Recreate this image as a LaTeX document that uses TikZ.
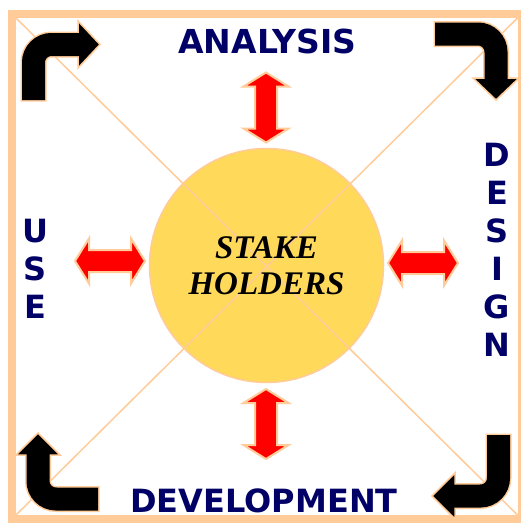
\documentclass[tikz,border=0pt]{standalone}
\usepackage{fontspec}
\newfontfamily\labelfont{DejaVu Sans}
\newfontfamily\hubfont{Liberation Serif}

\definecolor{peach}{RGB}{255,204,153}
\definecolor{hubyellow}{RGB}{255,217,90}
\definecolor{navy}{RGB}{0,0,102}

\tikzset{
    label/.style={text=navy,inner sep=0pt,font=\labelfont\bfseries\fontsize{16}{19}\selectfont,align=center},
    bentrim/.style={draw=peach,line width=13pt,rounded corners=9pt,shorten <=-0.75pt},
    bentshaft/.style={draw=black,line width=11.5pt,rounded corners=9pt},
    benthead/.style={fill=black,draw=peach,line width=0.75pt,line join=miter},
    dblarrow/.pic={
        \draw [fill=red,draw=peach,line width=1pt,line join=miter]
            (-35,0) -- (-21,-22.5) -- (-21,-11) -- (21,-11) -- (21,-22.5)
            -- (35,0) -- (21,22.5) -- (21,11) -- (-21,11) -- (-21,22.5) -- cycle;
    }
}

\begin{document}
\begin{tikzpicture}[x=0.5pt,y=-0.5pt]
    \useasboundingbox (0,0) rectangle (520,525);
    \fill [white] (0,0) rectangle (520,525);

    \draw [peach,line width=4pt] (12,14) rectangle (521.5,519);

    \node [circle,minimum size=117pt,fill=hubyellow,draw=peach,line width=0.75pt] (hub) at (266.5,265.5) {};

    \draw [peach,line width=0.75pt]
        (16,18) -- (517.5,515)
        (517.5,18) -- (16,515)
    ;

    \node [font=\hubfont\bfseries\itshape\fontsize{16.5}{18}\selectfont,align=center] (hubtext) at (hub.center) {STAKE\\HOLDERS};

    \pic [rotate=90] at (266,107.5) {dblarrow};
    \pic [rotate=90] at (266,424) {dblarrow};
    \pic at (110,261) {dblarrow};
    \pic at (423,263) {dblarrow};

    % bent arrows in the corners
    \draw [bentrim] (33.5,100) -- (33.5,44.5) -- (80,44.5);
    \draw [benthead] (78,21) -- (100,44.5) -- (78,68) -- cycle;
    \draw [bentshaft] (33.5,100) -- (33.5,44.5) -- (80,44.5);

    \draw [bentrim] (435,34) -- (496,34) -- (496,80);
    \draw [benthead] (473,78) -- (496,100) -- (519,78) -- cycle;
    \draw [bentshaft] (435,34) -- (496,34) -- (496,80);

    \draw [bentrim] (498.5,435) -- (498.5,496) -- (453,496);
    \draw [benthead] (455,473) -- (432,496) -- (455,519) -- cycle;
    \draw [bentshaft] (498.5,435) -- (498.5,496) -- (453,496);

    \draw [bentrim] (98,499) -- (38,499) -- (38,453);
    \draw [benthead] (16,455) -- (38,433) -- (60,455) -- cycle;
    \draw [bentshaft] (98,499) -- (38,499) -- (38,453);

    \node [label,font=\labelfont\bfseries\fontsize{16.5}{19}\selectfont] (analysis) at (267.5,41.5) {ANALYSIS};
    \node [label] (development) at (264,501) {DEVELOPMENT};
    \node [label] (design) at (497,250) {D\\E\\S\\I\\G\\N};
    \node [label] (use) at (35,268.5) {U\\S\\E};
\end{tikzpicture}
\end{document}
